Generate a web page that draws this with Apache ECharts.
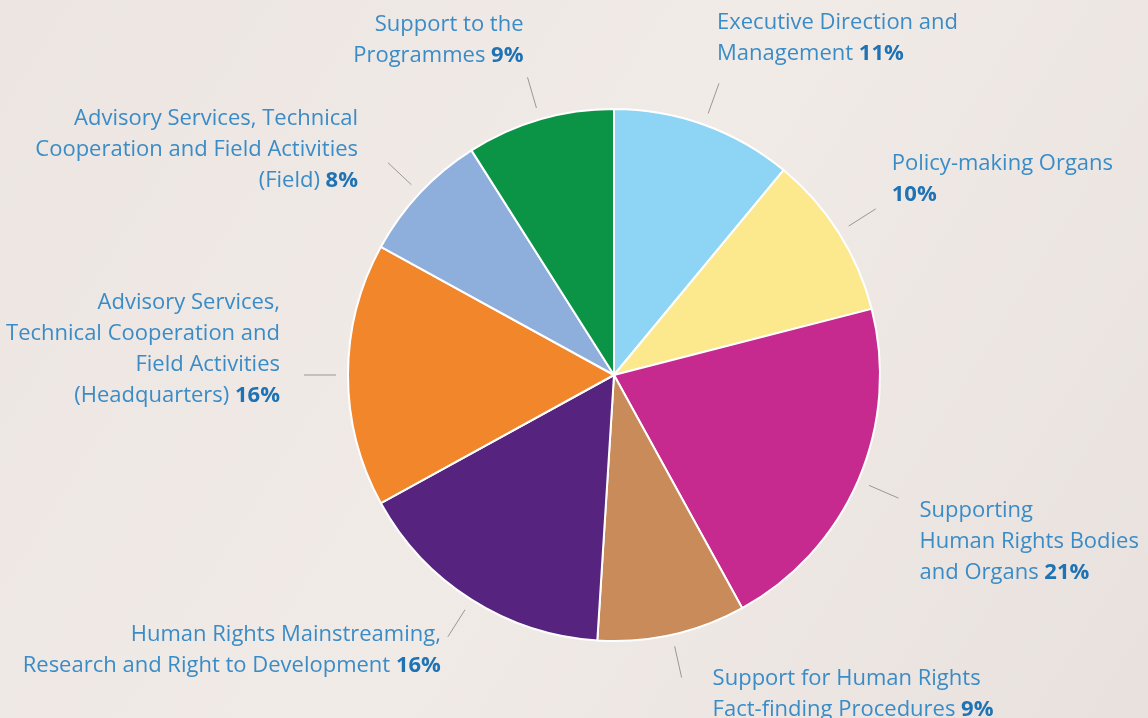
<!DOCTYPE html>
<html>
<head>
<meta charset="utf-8">
<script src="https://cdn.jsdelivr.net/npm/echarts@6/dist/echarts.min.js"></script>
<style>
  html, body { margin: 0; padding: 0; }
  #main { width: 1148px; height: 718px; }
</style>
</head>
<body>
<div id="main"></div>
<script>
// slices clockwise from 12 o'clock
const categories = [
  "Executive Direction and\nManagement",
  "Policy-making Organs\n",
  "Supporting\nHuman Rights Bodies\nand Organs",
  "Support for Human Rights\nFact-finding Procedures",
  "Human Rights Mainstreaming,\nResearch and Right to Development",
  "Advisory Services,\nTechnical Cooperation and\nField Activities\n(Headquarters)",
  "Advisory Services, Technical\nCooperation and Field Activities\n(Field)",
  "Support to the\nProgrammes"
];
const shares = [11, 10, 21, 9, 16, 16, 8, 9];
const colors = ["#8ed4f5", "#fce98e", "#c62a8f", "#c98b5a", "#56247f", "#f1862b", "#8eafdc", "#0b9446"];

// where each text block sits relative to the outer end of its leader line
const labelPlace = [
  { h: "left", v: "bottom", ox: -2, oy: -14 },
  { h: "left", v: "bottom", ox: 16, oy: 1 },
  { h: "left", v: "top", ox: 21, oy: -3 },
  { h: "left", v: "top", ox: 31, oy: -14 },
  { h: "right", v: "middle", ox: -7, oy: 13 },
  { h: "right", v: "bottom", ox: -24, oy: 36 },
  { h: "right", v: "bottom", ox: -30, oy: 33 },
  { h: "right", v: "bottom", ox: -4, oy: -6 }
];

const pieData = categories.map((name, i) => ({
  name,
  value: shares[i],
  itemStyle: { color: colors[i] }
}));

const chart = echarts.init(document.getElementById("main"));

chart.setOption({
  backgroundColor: {
    type: "linear", x: 0, y: 0, x2: 1, y2: 1,
    colorStops: [
      { offset: 0, color: "#ece5e2" },
      { offset: 0.5, color: "#f1ebe8" },
      { offset: 1, color: "#e8e1de" }
    ]
  },
  animation: false,
  series: [
    {
      type: "pie",
      silent: true,
      center: [614, 375],
      radius: 266,
      startAngle: 90,
      clockwise: true,
      label: { show: false },
      labelLine: { show: false },
      itemStyle: { borderColor: "#ffffff", borderWidth: 2 },
      data: pieData
    },
    {
      // transparent ring that only carries the labels and their leader lines
      type: "pie",
      silent: true,
      center: [614, 375],
      radius: 278,
      startAngle: 90,
      clockwise: true,
      avoidLabelOverlap: false,
      itemStyle: { color: "rgba(0,0,0,0)" },
      label: {
        show: true,
        position: "outside",
        fontFamily: "Open Sans",
        fontSize: 22,
        lineHeight: 31,
        color: "#3a8cc7",
        formatter: (p) => {
          const sep = p.name.endsWith("\n") ? "" : " ";
          return p.name + sep + "{b|" + p.value + "%}";
        },
        rich: {
          b: { fontFamily: "Open Sans", fontSize: 22, lineHeight: 31, fontWeight: "bold", color: "#1f72b3" }
        }
      },
      labelLine: {
        show: true,
        length: 32,
        length2: 0,
        lineStyle: { color: "#9b9794", width: 1 }
      },
      labelLayout: (params) => {
        const pl = labelPlace[params.dataIndex];
        const pts = params.labelLinePoints;
        const end = pts[pts.length - 1];
        const r = params.labelRect;
        let x = pl.h === "left" ? end[0] + pl.ox : end[0] + pl.ox - r.width;
        let y;
        if (pl.v === "bottom") y = end[1] + pl.oy - r.height;
        else if (pl.v === "top") y = end[1] + pl.oy;
        else y = end[1] + pl.oy - r.height / 2;
        return { dx: x - r.x, dy: y - r.y };
      },
      data: categories.map((name, i) => ({ name, value: shares[i] }))
    }
  ]
});
</script>
</body>
</html>
